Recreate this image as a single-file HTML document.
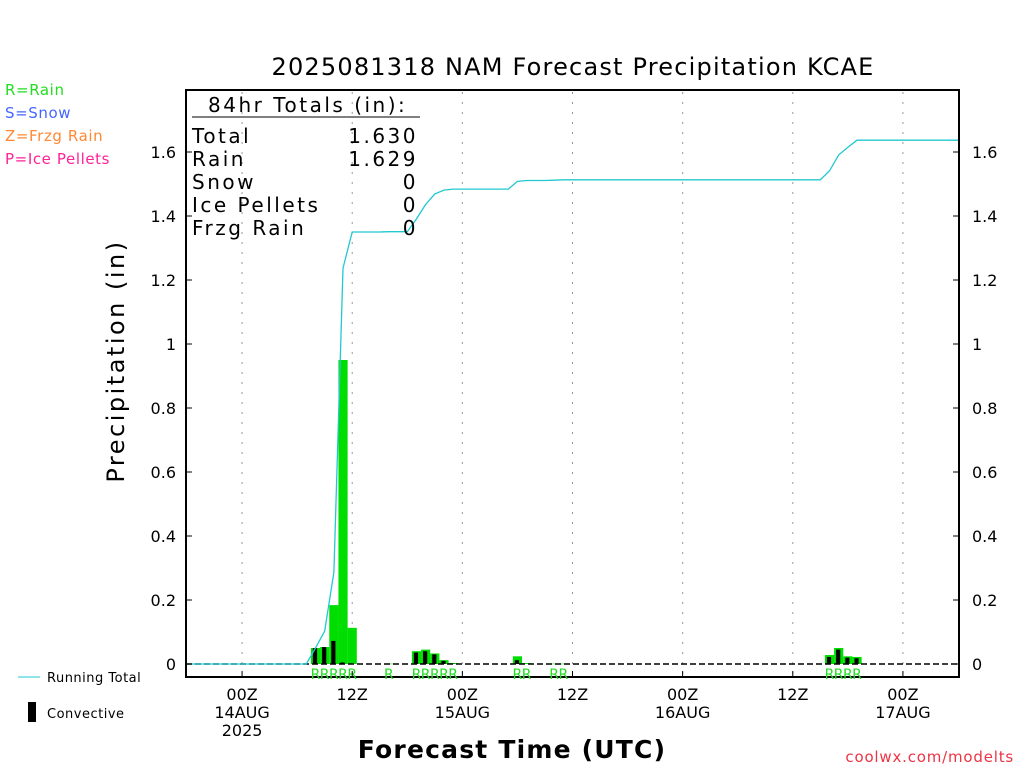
<!DOCTYPE html>
<html><head><meta charset="utf-8"><style>
body{margin:0;background:#fff}
svg{display:block;font-family:"DejaVu Sans","Liberation Sans",sans-serif}
</style></head><body>
<svg id="c" width="1024" height="768" viewBox="0 0 1024 768">
<text x="573" y="75" font-size="24" letter-spacing="1.2" text-anchor="middle">2025081318 NAM Forecast Precipitation KCAE</text>
<g font-size="15" letter-spacing="0.6">
<text x="5" y="95" fill="#22dd22">R=Rain</text>
<text x="5" y="118" fill="#4466ff">S=Snow</text>
<text x="5" y="141" fill="#ff8833">Z=Frzg Rain</text>
<text x="5" y="164" fill="#ff2299">P=Ice Pellets</text>
</g>
<rect x="186" y="90" width="773" height="587" fill="none" stroke="#000" stroke-width="2"/>
<g id="grid"></g>
<g id="bars"></g>
<line x1="186" y1="664" x2="959" y2="664" stroke="#000" stroke-width="1.5" stroke-dasharray="6,3"/>
<polyline id="line" fill="none" stroke="#22c8d0" stroke-width="1.3"/>
<g id="axes" font-size="16"></g>
<g font-size="20" letter-spacing="2.5">
<text x="208" y="112">84hr Totals (in):</text>
<line x1="192" y1="117" x2="420" y2="117" stroke="#000"/>
<text x="192" y="143">Total</text><text x="418" y="143" text-anchor="end">1.630</text>
<text x="192" y="166">Rain</text><text x="418" y="166" text-anchor="end">1.629</text>
<text x="192" y="189">Snow</text><text x="418" y="189" text-anchor="end">0</text>
<text x="192" y="212">Ice Pellets</text><text x="418" y="212" text-anchor="end">0</text>
<text x="192" y="235">Frzg Rain</text><text x="418" y="235" text-anchor="end">0</text>
</g>
<text transform="translate(124,361) rotate(-90)" font-size="24" letter-spacing="2.5" text-anchor="middle">Precipitation (in)</text>
<text x="512" y="758" font-size="25" font-weight="bold" letter-spacing="1.2" text-anchor="middle">Forecast Time (UTC)</text>
<line x1="18" y1="677" x2="40" y2="677" stroke="#22c8d0"/>
<text x="47" y="682" font-size="13" letter-spacing="0.5">Running Total</text>
<rect x="28" y="702" width="8" height="20" fill="#000"/>
<text x="47" y="718" font-size="13" letter-spacing="0.5">Convective</text>
<text x="1014" y="762" font-size="15" letter-spacing="0.8" fill="#ee3344" text-anchor="end">coolwx.com/modelts</text>
</svg>
<script>
const hours=[14,15,16,17,18,22,25,26,27,28,29,36,37,40,41,70,71,72,73];
const totals=[0.05,0.053,0.184,0.95,0.113,0.001,0.04,0.045,0.033,0.012,0.003,0.024,0.003,0.001,0.001,0.028,0.05,0.024,0.022];
const convective=[0.05,0.053,0.072,0.005,0,0,0.036,0.04,0.03,0.01,0.001,0.012,0,0,0,0.022,0.045,0.02,0.018];
const yTicks=[0,0.2,0.4,0.6,0.8,1,1.2,1.4,1.6];
const xTickHours=[6,18,30,42,54,66,78];
const xTickLabels=[["00Z","14AUG","2025"],["12Z"],["00Z","15AUG"],["12Z"],["00Z","16AUG"],["12Z"],["00Z","17AUG"]];
const NS='http://www.w3.org/2000/svg';
const X=h=>187+h*(771/84), Y=v=>664-v*320;
function mk(t,a,p){const e=document.createElementNS(NS,t);for(const k in a)e.setAttribute(k,a[k]);p.appendChild(e);return e;}
const grid=document.getElementById('grid'),bars=document.getElementById('bars'),axes=document.getElementById('axes');
xTickHours.forEach((h,i)=>{
 const l=mk('line',{x1:X(h),x2:X(h),y1:92,y2:675,stroke:'#999','stroke-dasharray':'2,8'},grid);
 
 
 const t=mk('line',{x1:X(h),x2:X(h),y1:677,y2:671,stroke:'#000'},axes);
 
 
 xTickLabels[i].forEach((s,j)=>{const tx=mk('text',{x:X(h),y:700+j*18,'text-anchor':'middle'},axes);tx.textContent=s;
 
 });
});
yTicks.forEach(v=>{
 const a=mk('text',{x:176,y:Y(v)+6,'text-anchor':'end'},axes);a.textContent=String(v);
 
 
 const b=mk('text',{x:972,y:Y(v)+6},axes);b.textContent=String(v);
 
 
 mk('line',{x1:186,x2:192,y1:Y(v),y2:Y(v),stroke:'#000'},axes);
 mk('line',{x1:953,x2:959,y1:Y(v),y2:Y(v),stroke:'#000'},axes);
});
const w=771/84;
hours.forEach((h,i)=>{
 const g=mk('rect',{x:X(h)-w/2,y:Y(totals[i]),width:w,height:Math.max(0.5,totals[i]*320),fill:'#00dd00'},bars);
 
 
 if(convective[i]>0){const c=mk('rect',{x:X(h)-w/2+2,y:Y(convective[i]),width:w-5,height:convective[i]*320,fill:'#000'},bars);
 
 }
 const r=mk('text',{x:X(h),y:679,'text-anchor':'middle','font-size':'14',fill:'#22dd22'},bars);r.textContent='R';
 
 
});
let pts=[],cum=0;
for(let h=0;h<=84;h++){const k=hours.indexOf(h);if(k>=0)cum+=totals[k];pts.push(X(h).toFixed(1)+','+Y(cum).toFixed(1));}
document.getElementById('line').setAttribute('points',pts.join(' '));
</script>
</body></html>
